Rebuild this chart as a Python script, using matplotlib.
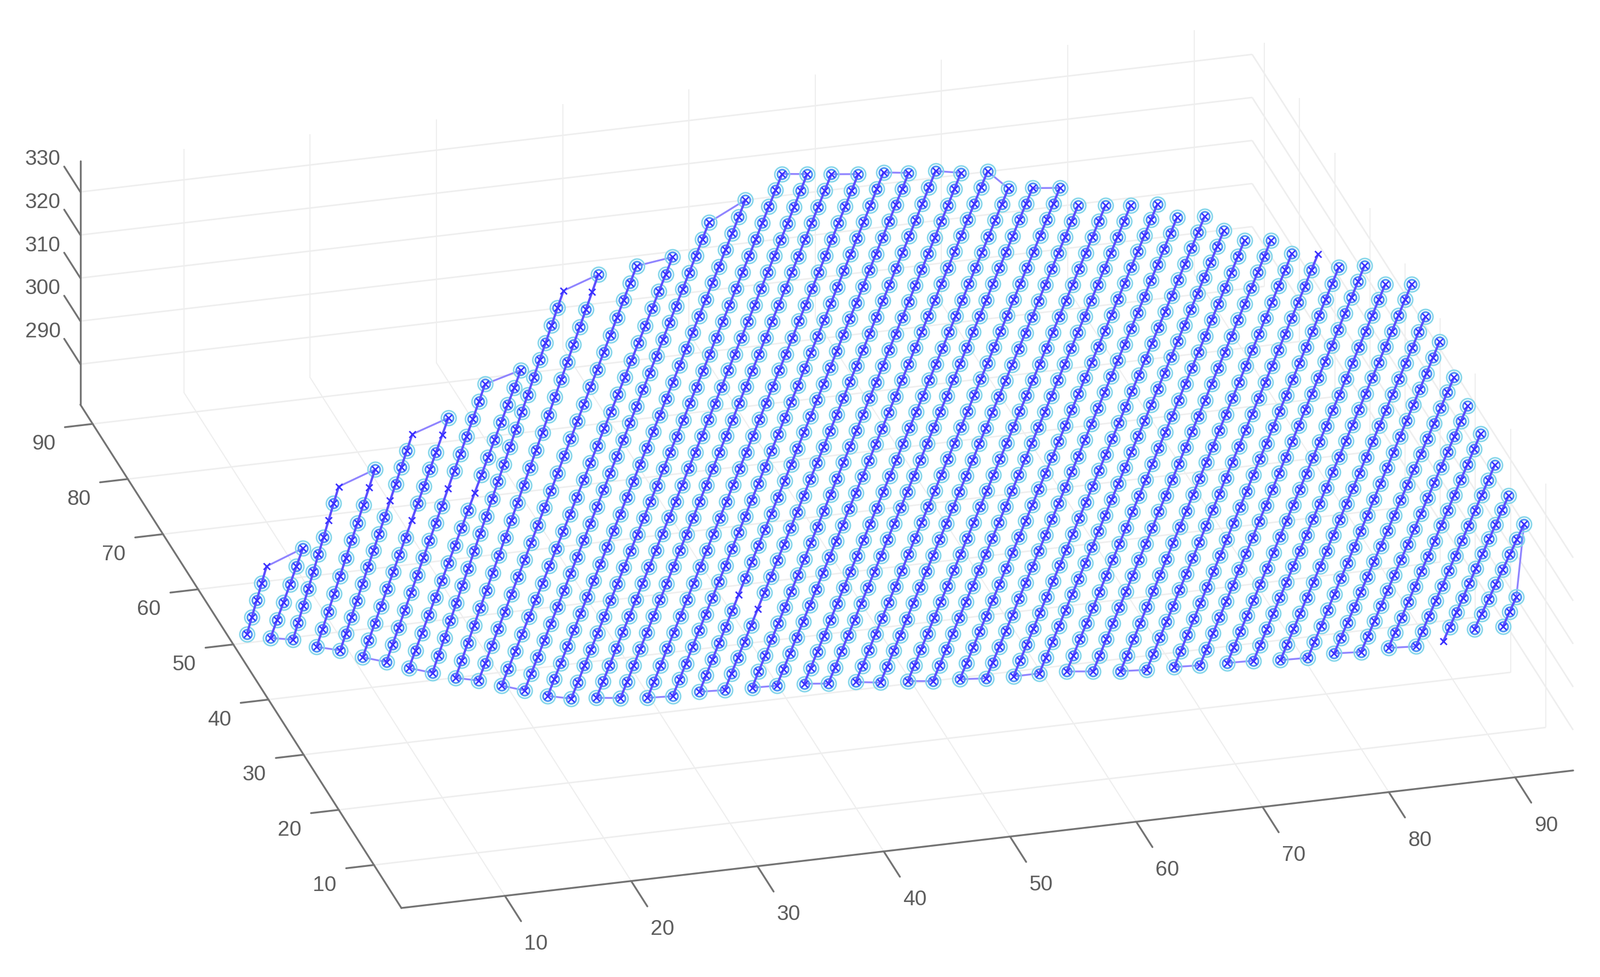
import numpy as np
import matplotlib
matplotlib.use("Agg")
import matplotlib.pyplot as plt
from mpl_toolkits.mplot3d import proj3d

plt.rcParams['font.family'] = ['Liberation Sans', 'DejaVu Sans']

W, H = 2922, 1784
x_ticks = [10, 20, 30, 40, 50, 60, 70, 80, 90]
y_ticks = [10, 20, 30, 40, 50, 60, 70, 80, 90]
z_ticks = [290, 300, 310, 320, 330]
x_lim = (1.8, 94.6)
y_lim = (2.2, 93.5)
z_lim = (280.6, 337.2)

# scan lines: first sample of each line and the spacing along it
col_x0 = [2.6, 3.36, 4.58, 5.34, 6.65, 7.31, 8.63, 9.3, 10.61, 11.32, 12.59, 13.3, 14.56, 15.28, 16.59,
          17.47, 19.38, 21.51, 23.51, 25.63, 27.63, 29.8, 31.75, 33.92, 35.83, 38.0, 39.96, 42.13, 44.12, 46.25,
          48.33, 50.5, 52.54, 54.71, 56.8, 58.97, 61.05, 63.22, 65.26, 67.43, 69.51, 71.64, 73.81, 75.89, 78.02,
          80.19, 82.36, 84.53, 87.0, 89.26]
col_y0 = [49, 45, 43, 39, 37, 33, 31, 27, 25, 21, 19, 15, 13, 9, 7,
          3, 3, 3, 3, 3, 3, 3, 3, 3, 3, 3, 3, 3, 3, 3,
          3, 3, 3, 3, 3, 3, 3, 3, 3, 3, 3, 3, 3, 3, 3,
          3, 3, 3, 3, 3]
col_dx = [1.057, 1.18, 1.07, 1.13, 1.107, 1.153, 1.157, 1.19, 1.14, 1.16, 1.19, 1.21, 1.19, 1.19, 1.19,
          1.19, 1.19, 1.19, 1.19, 1.186, 1.19, 1.185, 1.19, 1.19, 1.19, 1.19, 1.19, 1.19, 1.19, 1.19,
          1.19, 1.19, 1.19, 1.19, 1.19, 1.19, 1.19, 1.19, 1.19, 1.19, 1.19, 1.19, 1.19, 1.196, 1.196,
          1.19, 1.19, 1.187, 1.23, 1.2]
dy_along = 2.4

z01 = [284.0, 284.5, 285.0, 285.5, 286.0]
z02 = [288.0, 288.7, 289.3, 290.0, 290.7, 291.4]
z03 = [289.7, 290.2, 290.7, 291.2, 291.7, 292.3, 292.8, 293.3, 293.8, 294.3]
z04 = [292.9, 293.6, 294.2, 294.9, 295.5, 296.2, 296.9, 297.5, 298.2, 298.8, 299.5]
z05 = [294.2, 294.6, 295.0, 295.4, 295.8, 296.3, 296.7, 297.1, 297.5, 297.9, 298.3, 298.7, 299.1, 299.5]
z06 = [297.5, 298.0, 298.5, 299.0, 299.5, 300.0, 300.5, 301.0, 301.5, 302.0, 302.5, 303.0, 303.5, 304.0, 304.5]
z07 = [298.5, 299.1, 299.6, 300.2, 300.7, 301.3, 301.9, 302.4, 303.0, 303.5, 304.1, 304.7, 305.2, 305.8, 306.3, 306.9, 307.5]
z08 = [302.0, 302.6, 303.2, 303.8, 304.4, 304.9, 305.5, 306.1, 306.7, 307.3, 307.9, 308.5, 309.1, 309.7, 310.3, 310.9, 311.4, 312.0]
z09 = [303.0, 303.6, 304.1, 304.7, 305.3, 305.9, 306.4, 307.0, 307.6, 308.1, 308.7, 309.3, 309.8, 310.4, 311.0, 311.6, 312.1, 312.7, 313.3, 313.8, 314.4, 315.0, 315.5]
z10 = [306.7, 307.3, 307.9, 308.5, 309.1, 309.7, 310.3, 310.9, 311.5, 312.1, 312.7, 313.3, 313.9, 314.5, 315.1, 315.7, 316.3, 316.9, 317.5, 318.1, 318.7, 319.3, 319.9, 320.5]
z11 = [308.2, 308.7, 309.3, 309.8, 310.3, 310.9, 311.4, 311.9, 312.4, 313.0, 313.5, 314.0, 314.6, 315.1, 315.6, 316.2, 316.7, 317.2, 317.7, 318.3, 318.8, 319.3, 319.9, 320.4, 320.9]
z12 = [311.9, 312.4, 312.9, 313.4, 313.9, 314.4, 314.8, 315.3, 315.8, 316.3, 316.8, 317.3, 317.8, 318.3, 318.8, 319.3, 319.7, 320.2, 320.7, 321.2, 321.7, 322.2, 322.7, 323.2, 323.7, 324.2]
z13 = [312.9, 313.3, 313.7, 314.1, 314.5, 314.9, 315.3, 315.7, 316.1, 316.5, 316.9, 317.3, 317.7, 318.1, 318.5, 318.9, 319.3, 319.7, 320.1, 320.5, 320.9, 321.3, 321.7, 322.1, 322.5, 322.9, 323.3, 323.7, 324.1]
z14 = [316.5, 316.9, 317.2, 317.6, 317.9, 318.3, 318.6, 319.0, 319.3, 319.7, 320.1, 320.4, 320.8, 321.1, 321.5, 321.8, 322.2, 322.5, 322.9, 323.2, 323.6, 324.0, 324.3, 324.7, 325.0, 325.4, 325.7, 326.1, 326.4, 326.8, 327.2]
z15 = [318.0, 318.3, 318.7, 319.0, 319.3, 319.6, 320.0, 320.3, 320.6, 320.9, 321.3, 321.6, 321.9, 322.2, 322.6, 322.9, 323.2, 323.5, 323.9, 324.2, 324.5, 324.8, 325.2, 325.5, 325.8, 326.1, 326.5, 326.8, 327.1, 327.5, 327.8, 328.1, 328.4]
z16 = [323.0, 323.3, 323.6, 324.0, 324.3, 324.6, 324.9, 325.2, 325.5, 325.9, 326.2, 326.5, 326.8, 327.1, 327.5, 327.8, 328.1, 328.4, 328.7, 329.0, 329.4, 329.7, 330.0, 330.3, 330.6, 331.0, 331.3, 331.6, 331.9, 332.2, 332.5, 332.9, 333.2]
z17 = [322.3, 322.6, 322.9, 323.3, 323.6, 323.9, 324.2, 324.5, 324.9, 325.2, 325.5, 325.8, 326.1, 326.5, 326.8, 327.1, 327.4, 327.7, 328.1, 328.4, 328.7, 329.0, 329.3, 329.7, 330.0, 330.3, 330.6, 330.9, 331.3, 331.6, 331.9, 332.2, 332.5]
z18 = [321.6, 321.9, 322.2, 322.6, 322.9, 323.2, 323.5, 323.8, 324.2, 324.5, 324.8, 325.1, 325.4, 325.8, 326.1, 326.4, 326.7, 327.0, 327.4, 327.7, 328.0, 328.3, 328.6, 329.0, 329.3, 329.6, 329.9, 330.2, 330.6, 330.9, 331.2, 331.5, 331.8]
z19 = [321.3, 321.6, 321.9, 322.3, 322.6, 322.9, 323.2, 323.5, 323.8, 324.2, 324.5, 324.8, 325.1, 325.4, 325.8, 326.1, 326.4, 326.7, 327.0, 327.3, 327.7, 328.0, 328.3, 328.6, 328.9, 329.3, 329.6, 329.9, 330.2, 330.5, 330.8, 331.2, 331.5]
z20 = [321.6, 321.9, 322.2, 322.5, 322.7, 323.0, 323.3, 323.6, 323.9, 324.2, 324.5, 324.7, 325.0, 325.3, 325.6, 325.9, 326.2, 326.4, 326.7, 327.0, 327.3, 327.6, 327.9, 328.2, 328.4, 328.7, 329.0, 329.3, 329.6, 329.9, 330.2, 330.4, 330.7]
z21 = [321.3, 321.6, 321.9, 322.1, 322.4, 322.7, 323.0, 323.3, 323.6, 323.8, 324.1, 324.4, 324.7, 325.0, 325.3, 325.5, 325.8, 326.1, 326.4, 326.7, 327.0, 327.2, 327.5, 327.8, 328.1, 328.4, 328.7, 328.9, 329.2, 329.5, 329.8, 330.1, 330.4]
z22 = [321.1, 321.4, 321.6, 321.9, 322.1, 322.4, 322.6, 322.9, 323.1, 323.4, 323.7, 323.9, 324.2, 324.4, 324.7, 324.9, 325.2, 325.4, 325.7, 325.9, 326.2, 326.5, 326.7, 327.0, 327.2, 327.5, 327.7, 328.0, 328.2, 328.5, 328.7, 329.0, 329.3]
z23 = [320.9, 321.2, 321.4, 321.7, 321.9, 322.2, 322.4, 322.7, 322.9, 323.2, 323.4, 323.7, 323.9, 324.2, 324.4, 324.7, 324.9, 325.2, 325.4, 325.7, 325.9, 326.2, 326.4, 326.7, 326.9, 327.2, 327.4, 327.7, 327.9, 328.2, 328.4, 328.7, 328.9]
z24 = [320.6, 320.8, 321.1, 321.3, 321.5, 321.8, 322.0, 322.2, 322.4, 322.7, 322.9, 323.1, 323.4, 323.6, 323.8, 324.1, 324.3, 324.5, 324.7, 325.0, 325.2, 325.4, 325.7, 325.9, 326.1, 326.4, 326.6, 326.8, 327.0, 327.3, 327.5, 327.7]
z25 = [320.0, 320.2, 320.5, 320.7, 320.9, 321.2, 321.4, 321.6, 321.8, 322.1, 322.3, 322.5, 322.8, 323.0, 323.2, 323.5, 323.7, 323.9, 324.1, 324.4, 324.6, 324.8, 325.1, 325.3, 325.5, 325.8, 326.0, 326.2, 326.4, 326.7, 326.9, 327.1]
z26 = [319.6, 319.8, 320.0, 320.3, 320.5, 320.7, 320.9, 321.1, 321.4, 321.6, 321.8, 322.0, 322.2, 322.5, 322.7, 322.9, 323.1, 323.3, 323.6, 323.8, 324.0, 324.2, 324.4, 324.7, 324.9, 325.1, 325.3, 325.5, 325.8, 326.0, 326.2, 326.4]
z27 = [318.8, 319.0, 319.2, 319.4, 319.6, 319.9, 320.1, 320.3, 320.5, 320.7, 320.9, 321.1, 321.3, 321.5, 321.7, 322.0, 322.2, 322.4, 322.6, 322.8, 323.0, 323.2, 323.4, 323.6, 323.8, 324.1, 324.3, 324.5, 324.7, 324.9, 325.1]
z28 = [318.4, 318.6, 318.8, 319.0, 319.2, 319.4, 319.6, 319.8, 320.0, 320.2, 320.4, 320.6, 320.8, 321.0, 321.2, 321.4, 321.6, 321.8, 322.0, 322.2, 322.4, 322.6, 322.8, 323.0, 323.2, 323.4, 323.6, 323.8, 324.0, 324.2, 324.4]
z29 = [317.7, 317.9, 318.1, 318.3, 318.5, 318.7, 318.9, 319.1, 319.3, 319.5, 319.7, 319.9, 320.1, 320.3, 320.5, 320.7, 320.9, 321.1, 321.3, 321.5, 321.7, 321.9, 322.1, 322.3, 322.5, 322.7, 322.9, 323.1, 323.3, 323.5, 323.7]
z30 = [317.4, 317.6, 317.8, 318.0, 318.2, 318.4, 318.6, 318.8, 319.0, 319.2, 319.4, 319.6, 319.8, 320.0, 320.2, 320.4, 320.6, 320.8, 321.0, 321.2, 321.3, 321.5, 321.7, 321.9, 322.1, 322.3, 322.5, 322.7, 322.9, 323.1, 323.3]
z31 = [316.9, 317.1, 317.3, 317.5, 317.7, 318.0, 318.2, 318.4, 318.6, 318.8, 319.0, 319.2, 319.4, 319.6, 319.8, 320.1, 320.3, 320.5, 320.7, 320.9, 321.1, 321.3, 321.5, 321.7, 321.9, 322.2, 322.4, 322.6, 322.8, 323.0]
z32 = [316.6, 316.8, 317.0, 317.2, 317.4, 317.6, 317.8, 318.0, 318.2, 318.4, 318.6, 318.8, 319.0, 319.2, 319.4, 319.6, 319.8, 320.0, 320.2, 320.4, 320.6, 320.8, 321.0, 321.2, 321.4, 321.6, 321.8, 322.0, 322.2, 322.4]
z33 = [316.6, 316.8, 317.0, 317.2, 317.4, 317.6, 317.7, 317.9, 318.1, 318.3, 318.5, 318.7, 318.9, 319.1, 319.3, 319.5, 319.6, 319.8, 320.0, 320.2, 320.4, 320.6, 320.8, 321.0, 321.2, 321.4, 321.5, 321.7, 321.9]
z34 = [316.3, 316.5, 316.8, 317.0, 317.2, 317.4, 317.7, 317.9, 318.1, 318.3, 318.6, 318.8, 319.0, 319.2, 319.5, 319.7, 319.9, 320.1, 320.4, 320.6, 320.8, 321.0, 321.3, 321.5, 321.7, 321.9, 322.2, 322.4]
z35 = [315.6, 315.8, 316.1, 316.3, 316.5, 316.7, 317.0, 317.2, 317.4, 317.6, 317.9, 318.1, 318.3, 318.5, 318.8, 319.0, 319.2, 319.4, 319.7, 319.9, 320.1, 320.3, 320.6, 320.8, 321.0, 321.2, 321.5, 321.7]
z36 = [314.9, 315.1, 315.4, 315.6, 315.9, 316.1, 316.4, 316.6, 316.9, 317.1, 317.3, 317.6, 317.8, 318.1, 318.3, 318.6, 318.8, 319.1, 319.3, 319.6, 319.8, 320.0, 320.3, 320.5, 320.8, 321.0, 321.3]
z37 = [314.5, 314.7, 315.0, 315.2, 315.4, 315.7, 315.9, 316.1, 316.3, 316.6, 316.8, 317.0, 317.3, 317.5, 317.7, 318.0, 318.2, 318.4, 318.6, 318.9, 319.1, 319.3, 319.6, 319.8, 320.0, 320.3, 320.5]
z38 = [314.4, 314.6, 314.9, 315.1, 315.3, 315.6, 315.8, 316.0, 316.2, 316.5, 316.7, 316.9, 317.2, 317.4, 317.6, 317.9, 318.1, 318.3, 318.5, 318.8, 319.0, 319.2, 319.5, 319.7, 319.9, 320.2]
z39 = [314.1, 314.3, 314.6, 314.8, 315.0, 315.3, 315.5, 315.7, 315.9, 316.2, 316.4, 316.6, 316.9, 317.1, 317.3, 317.6, 317.8, 318.0, 318.2, 318.5, 318.7, 318.9, 319.2, 319.4, 319.6, 319.9]
z40 = [313.9, 314.1, 314.3, 314.5, 314.6, 314.8, 315.0, 315.2, 315.4, 315.6, 315.8, 315.9, 316.1, 316.3, 316.5, 316.7, 316.9, 317.0, 317.2, 317.4, 317.6, 317.8, 318.0, 318.2, 318.3]
z41 = [313.7, 313.9, 314.0, 314.2, 314.4, 314.5, 314.7, 314.8, 315.0, 315.2, 315.3, 315.5, 315.7, 315.8, 316.0, 316.2, 316.3, 316.5, 316.7, 316.8, 317.0, 317.1, 317.3, 317.5, 317.6]
z42 = [313.1, 313.2, 313.4, 313.5, 313.7, 313.8, 314.0, 314.1, 314.3, 314.4, 314.6, 314.7, 314.8, 315.0, 315.1, 315.3, 315.4, 315.6, 315.7, 315.9, 316.0, 316.2, 316.3]
z43 = [312.9, 313.1, 313.3, 313.5, 313.7, 313.9, 314.0, 314.2, 314.4, 314.6, 314.8, 315.0, 315.2, 315.4, 315.6, 315.8, 315.9, 316.1, 316.3, 316.5, 316.7]
z44 = [313.2, 313.3, 313.4, 313.4, 313.5, 313.6, 313.7, 313.8, 313.8, 313.9, 314.0, 314.1, 314.2, 314.2, 314.3, 314.4, 314.5, 314.6, 314.6]
z45 = [312.8, 312.9, 313.0, 313.1, 313.2, 313.3, 313.3, 313.4, 313.5, 313.6, 313.7, 313.8, 313.9, 314.0, 314.1, 314.2, 314.2]
z46 = [313.0, 313.1, 313.1, 313.2, 313.3, 313.4, 313.4, 313.5, 313.6, 313.6, 313.7, 313.8, 313.8, 313.9, 314.0]
z47 = [312.6, 312.6, 312.7, 312.7, 312.7, 312.8, 312.8, 312.8, 312.8, 312.9, 312.9, 312.9, 313.0]
z48 = [313.0, 312.9, 312.8, 312.7, 312.6, 312.6, 312.5, 312.4, 312.3, 312.2, 312.1]
z49 = [315.0, 315.0, 315.0, 314.9, 314.9, 314.9, 314.9, 314.9]
z50 = [314.8, 314.8, 314.7]

col_z = [z01, z02, z03, z04, z05, z06, z07, z08, z09, z10, z11, z12, z13, z14, z15, z16, z17, z18, z19, z20,
         z21, z22, z23, z24, z25, z26, z27, z28, z29, z30, z31, z32, z33, z34, z35, z36, z37, z38, z39, z40,
         z41, z42, z43, z44, z45, z46, z47, z48, z49, z50]

# samples that show only the cross, without circles (line number: sample indices)
no_circle = {1: [4], 3: [7, 9], 4: [9], 5: [9, 13], 6: [8, 13], 7: [10], 8: [10], 9: [22], 10: [22],
             20: [6], 21: [5], 37: [26], 48: [0]}
# lines joined at their far end / near end
far_links = [(1, 2), (3, 4), (5, 6), (7, 8), (9, 10), (11, 12), (13, 14), (15, 16), (17, 18), (19, 20),
             (21, 22), (23, 24), (25, 26), (49, 50)]
near_links = [(2, 3), (4, 5), (6, 7), (8, 9), (10, 11), (12, 13), (14, 15), (16, 17), (18, 19), (20, 21),
              (22, 23), (24, 25), (26, 27), (28, 29), (30, 31), (32, 33), (34, 35), (36, 37), (38, 39),
              (40, 41), (42, 43), (44, 45), (46, 47)]

LINE = '#5c4eff'
LINK = '#8f84ff'
RING = '#86d6ea'
INNER = '#4a90f2'
CROSS = '#3a30ff'
GRID = '#eeeeee'
AXIS = '#737373'
TEXT = '#5c5c5c'

fig = plt.figure(figsize=(W / 100, H / 100), dpi=100, facecolor='white')
ax = fig.add_axes([0, 0, 1, 1], projection='3d', proj_type='ortho')
ax.computed_zorder = False
ax.view_init(elev=25.4, azim=-105.3, roll=0)
ax.set_box_aspect((2216, 2219, 492))
ax.set_xlim(*x_lim)
ax.set_ylim(*y_lim)
ax.set_zlim(*z_lim)
ax.set_xticks(x_ticks)
ax.set_yticks(y_ticks)
ax.set_zticks(z_ticks)
ax.set_axis_off()


def to_pixels(px, py, pz):
    u, v, _ = proj3d.proj_transform(np.array([px]), np.array([py]), np.array([pz]), ax.get_proj())
    return ax.transData.transform(np.c_[u, v])[0]


def label(px, py, pz, s):
    # a plain figure text at the spot where the axes project this 3D position
    p = to_pixels(px, py, pz)
    fig.text(p[0] / W, p[1] / H, s, fontsize=28, color=TEXT, ha='center', va='center')


# place the box so that its front corner and x axis land where the reference has them
side = 2000.0
ax.set_position([0, 0, side / W, side / H])
ax.apply_aspect()
a0 = to_pixels(x_lim[0], y_lim[0], z_lim[0])
a1 = to_pixels(x_lim[1], y_lim[0], z_lim[0])
side *= (2873 - 733) / (a1[0] - a0[0])
ax.set_position([0, 0, side / W, side / H])
ax.apply_aspect()
a0 = to_pixels(x_lim[0], y_lim[0], z_lim[0])
ax.set_position([(733 - a0[0]) / W, ((H - 1658) - a0[1]) / H, side / W, side / H])
ax.apply_aspect()

gkw = dict(color=GRID, lw=2.0, zorder=1, solid_capstyle='butt')
gkw2 = dict(color=GRID, lw=1.5, zorder=1, solid_capstyle='butt')
for t in x_ticks:
    ax.plot([t, t], [y_lim[0], y_lim[1]], [z_lim[0], z_lim[0]], **gkw2)
    ax.plot([t, t], [y_lim[1], y_lim[1]], [z_lim[0], z_lim[1]], **gkw2)
for t in y_ticks:
    ax.plot([x_lim[0], x_lim[1]], [t, t], [z_lim[0], z_lim[0]], **gkw)
    ax.plot([x_lim[1], x_lim[1]], [t, t], [z_lim[0], z_lim[1]], **gkw2)
for t in z_ticks:
    ax.plot([x_lim[0], x_lim[1]], [y_lim[1], y_lim[1]], [t, t], **gkw)
    ax.plot([x_lim[1], x_lim[1]], [y_lim[1], y_lim[0]], [t, t], **gkw)

akw = dict(color=AXIS, lw=2.4, zorder=2, solid_capstyle='round')
ax.plot(x_lim, [y_lim[0]] * 2, [z_lim[0]] * 2, **akw)
ax.plot([x_lim[0]] * 2, y_lim, [z_lim[0]] * 2, **akw)
ax.plot([x_lim[0]] * 2, [y_lim[1]] * 2, z_lim, **akw)

for t in x_ticks:
    ax.plot([t, t], [y_lim[0], y_lim[0] - 4.6], [z_lim[0]] * 2, **akw)
    label(t, y_lim[0] - 8.8, z_lim[0], str(t))
for t in y_ticks:
    ax.plot([x_lim[0], x_lim[0] - 2.2], [t, t], [z_lim[0]] * 2, **akw)
    label(x_lim[0] - 3.9, t, z_lim[0] - 3.4, str(t))
for t in z_ticks:
    ax.plot([x_lim[0]] * 2, [y_lim[1], y_lim[1] + 4.6], [t, t], **akw)
    label(x_lim[0] - 1.25, y_lim[1] + 6.2, t, str(t))

col_xy = []
for x0, y0, dx, zs in zip(col_x0, col_y0, col_dx, col_z):
    idx = np.arange(len(zs))
    col_xy.append((x0 + dx * idx, y0 + dy_along * idx, np.array(zs)))

lkw = dict(color=LINK, lw=2.4, zorder=3, solid_capstyle='round')
for a, b in far_links:
    xa, ya, za = col_xy[a - 1]
    xb, yb, zb = col_xy[b - 1]
    ax.plot([xa[-1], xb[-1]], [ya[-1], yb[-1]], [za[-1], zb[-1]], **lkw)
for a, b in near_links:
    xa, ya, za = col_xy[a - 1]
    xb, yb, zb = col_xy[b - 1]
    ax.plot([xa[0], xb[0]], [ya[0], yb[0]], [za[0], zb[0]], **lkw)

for j, (xs, ys, zs) in enumerate(col_xy, start=1):
    keep = np.ones(len(zs), bool)
    if j in no_circle:
        keep[no_circle[j]] = False
    ax.plot(xs[keep], ys[keep], zs[keep], ls='none', marker='o', ms=19.5, mfc='none', mec=RING, mew=2.0, zorder=4)
    ax.plot(xs[keep], ys[keep], zs[keep], ls='none', marker='o', ms=12.5, mfc='none', mec=INNER, mew=2.2, zorder=4.2)
    ax.plot(xs, ys, zs, color=LINE, lw=3.0, zorder=4.4, solid_capstyle='round')
    ax.plot(xs, ys, zs, ls='none', marker='x', ms=8, mec=CROSS, mew=2.0, zorder=4.6)

fig.savefig('out.png', dpi=100, facecolor='white')
